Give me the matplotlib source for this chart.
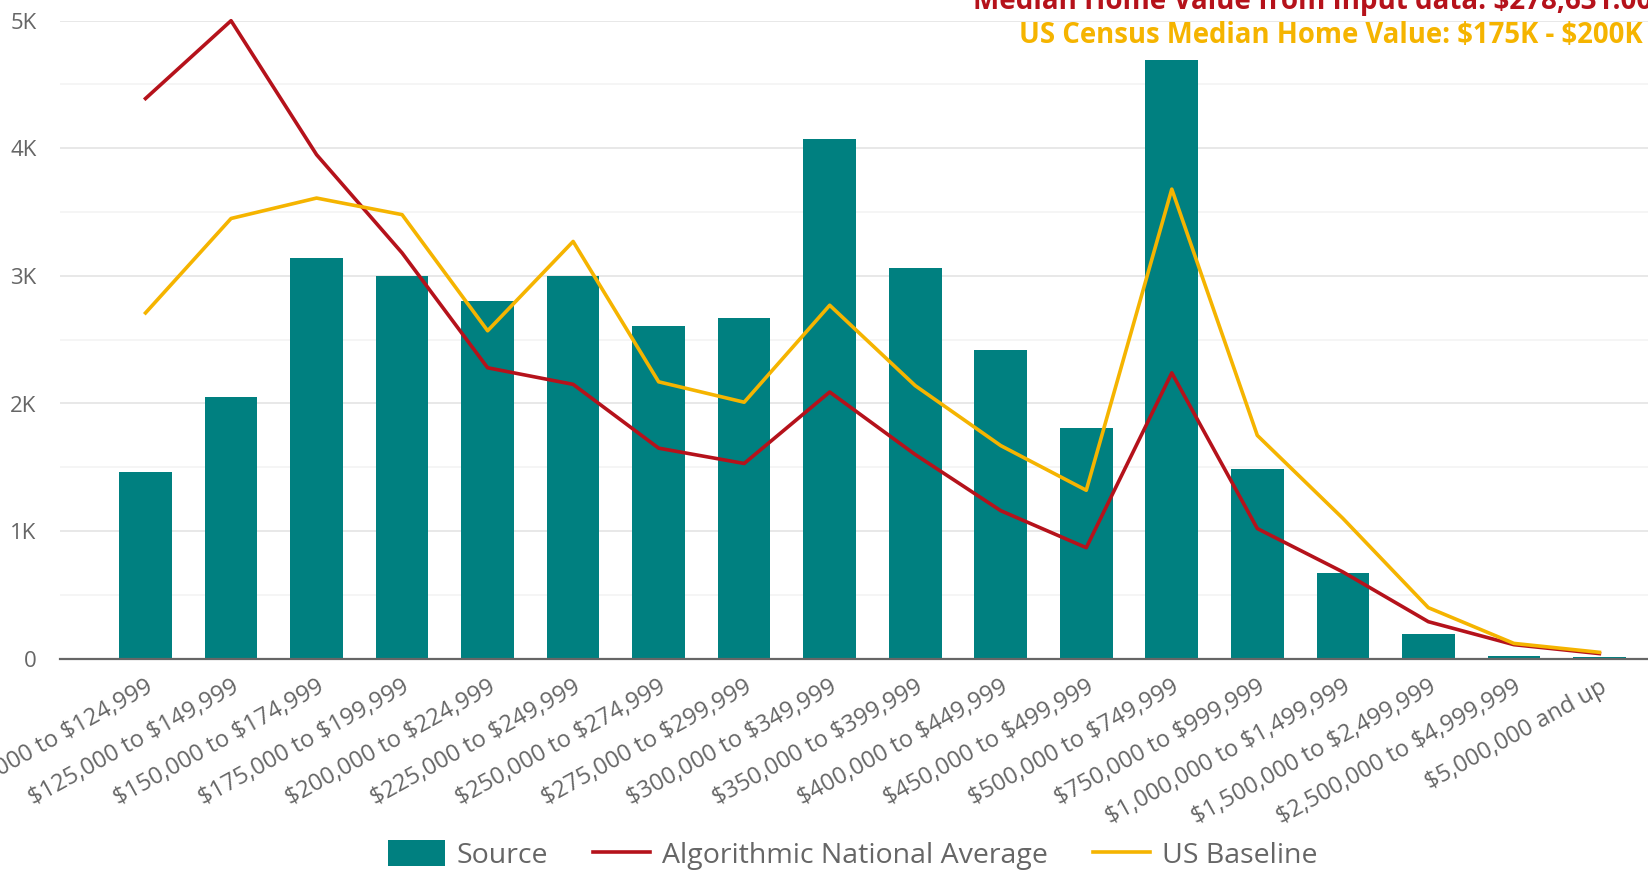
import numpy as np
import matplotlib.pyplot as plt
from matplotlib.ticker import MultipleLocator, FuncFormatter

plt.rcParams["font.family"] = ["Open Sans", "DejaVu Sans"]
plt.rcParams["text.parse_math"] = False

categories = ['$100,000 to $124,999', '$125,000 to $149,999', '$150,000 to $174,999',
              '$175,000 to $199,999', '$200,000 to $224,999', '$225,000 to $249,999',
              '$250,000 to $274,999', '$275,000 to $299,999', '$300,000 to $349,999',
              '$350,000 to $399,999', '$400,000 to $449,999', '$450,000 to $499,999',
              '$500,000 to $749,999', '$750,000 to $999,999', '$1,000,000 to $1,499,999',
              '$1,500,000 to $2,499,999', '$2,500,000 to $4,999,999', '$5,000,000 and up']

source = [1460, 2050, 3140, 3000, 2800, 3000, 2610, 2670, 4070,
          3060, 2420, 1810, 4690, 1490, 670, 190, 25, 15]
algorithmic = [4390, 5000, 3950, 3180, 2280, 2150, 1650, 1530, 2090,
               1600, 1160, 870, 2240, 1020, 680, 290, 110, 40]
baseline = [2710, 3450, 3610, 3480, 2570, 3270, 2170, 2010, 2770,
            2140, 1670, 1320, 3680, 1750, 1100, 400, 120, 50]

teal = '#008080'
red = '#B5121B'
gold = '#F5B400'
gray = '#666666'

fig = plt.figure(figsize=(16.49, 8.72), dpi=100)
ax = fig.add_axes([60/1649, 213.3/872, 1 - 60/1649, (658.7-20.7)/872])

x = np.arange(len(categories))
bars = ax.bar(x, source, width=0.615, color=teal, label='Source', zorder=2)
l1, = ax.plot(x, algorithmic, color=red, linewidth=2.6, label='Algorithmic National Average',
              zorder=3, clip_on=False)
l2, = ax.plot(x, baseline, color=gold, linewidth=2.6, label='US Baseline',
              zorder=4, clip_on=False)

ax.set_xlim(-1.0, 17.58)
ax.set_ylim(0, 5000)
ax.yaxis.set_major_locator(MultipleLocator(1000))
ax.yaxis.set_minor_locator(MultipleLocator(500))
ax.yaxis.set_major_formatter(FuncFormatter(lambda v, p: '0' if v == 0 else '%dK' % (v/1000)))
ax.grid(axis='y', which='major', color='#e6e6e6', linewidth=1.3, zorder=0)
ax.grid(axis='y', which='minor', color='#f4f4f4', linewidth=1.3, zorder=0)
ax.set_axisbelow(True)

for s in ['top', 'right', 'left']:
    ax.spines[s].set_visible(False)
ax.spines['bottom'].set_color(gray)
ax.spines['bottom'].set_linewidth(1.6)
ax.spines['bottom'].set_zorder(5)

ax.tick_params(axis='y', which='both', length=0, pad=17, labelsize=16, labelcolor=gray)
ax.tick_params(axis='x', length=0, pad=12, labelsize=17, labelcolor=gray)
ax.set_xticks(x)
ax.set_xticklabels(categories, rotation=29, ha='right', va='top', rotation_mode='anchor')

fig.text(973/1649, 1 - 9/872, 'Median Home Value from Input data: $278,631.00',
         color=red, fontsize=20, fontweight='bold', ha='left', va='baseline')
fig.text(1019/1649, 1 - 43/872, 'US Census Median Home Value: $175K - $200K',
         color=gold, fontsize=19.8, fontweight='bold', ha='left', va='baseline')

fig.legend([bars, l1, l2], ['Source', 'Algorithmic National Average', 'US Baseline'],
           loc='center', bbox_to_anchor=(0.517, 17/872), ncol=3, frameon=False,
           fontsize=20.5, labelcolor=gray, handlelength=2.0, handleheight=1.0,
           handletextpad=0.4, columnspacing=1.6, borderpad=0)

plt.savefig('out.png', dpi=100)
